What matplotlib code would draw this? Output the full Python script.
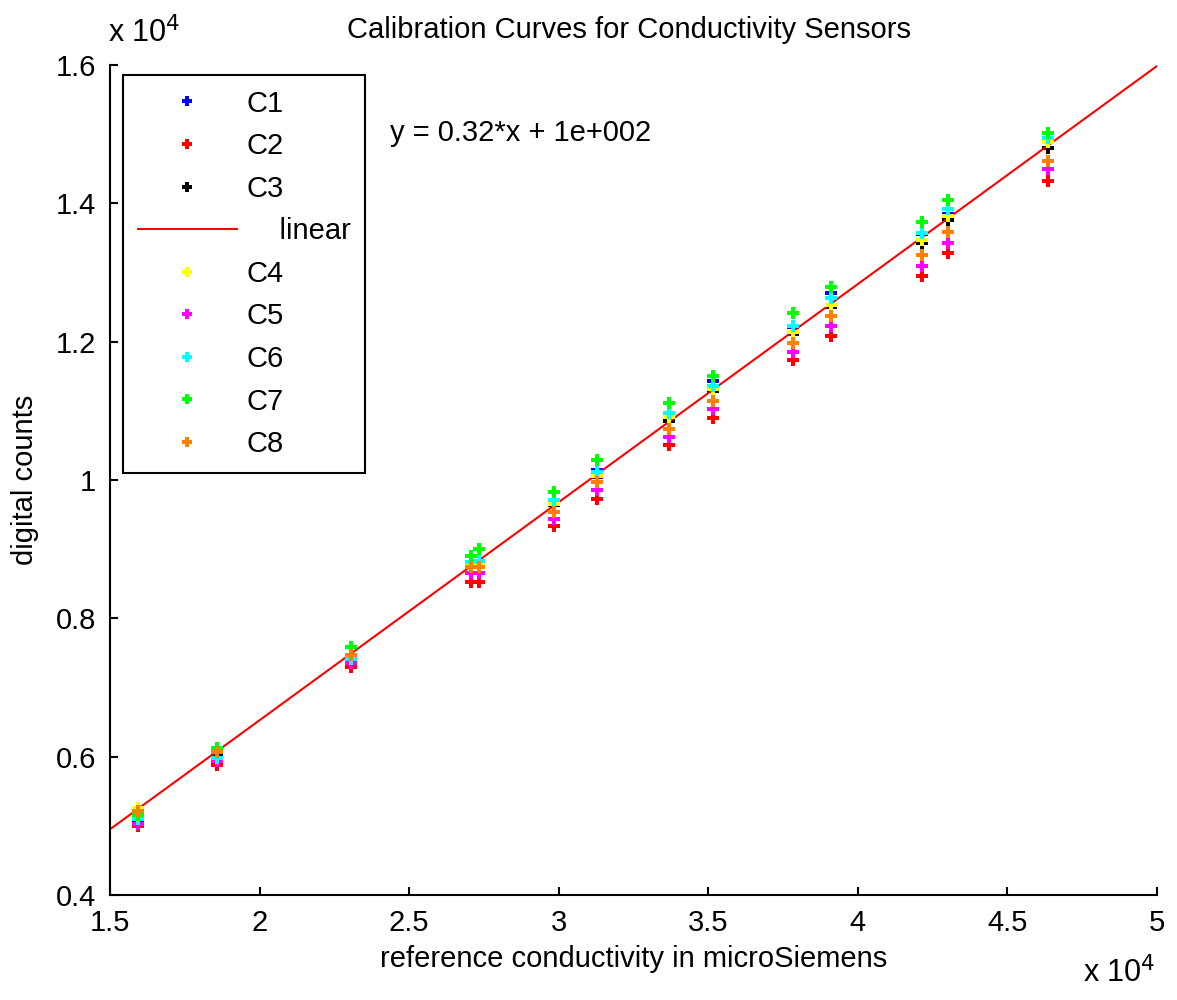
import matplotlib
matplotlib.use("Agg")
import matplotlib.pyplot as plt
import numpy as np
from matplotlib.ticker import FuncFormatter, MultipleLocator

plt.rcParams['font.family'] = ['Liberation Sans Narrow', 'Liberation Sans', 'DejaVu Sans']

# reference conductivity (microSiemens)
ref = [15950, 18570, 23070, 27080, 27350, 29840, 31280, 33690, 35150, 37820, 39090, 42160, 43030, 46360]

# digital counts per sensor
C1 = [5070, 6010, 7410, 8800, 8830, 9690, 10150, 10950, 11430, 12210, 12700, 13550, 13840, 14915]
C2 = [5000, 5880, 7290, 8530, 8530, 9339, 9719, 10500, 10896, 11735, 12081, 12952, 13275, 14322]
C3 = [5150, 6047, 7440, 8760, 8790, 9638, 10046, 10856, 11291, 12114, 12505, 13420, 13758, 14794]
C4 = [5260, 6080, 7460, 8790, 8800, 9650, 10060, 10905, 11315, 12143, 12530, 13469, 13816, 14881]
C5 = [5020, 5937, 7358, 8650, 8650, 9430, 9855, 10616, 11030, 11844, 12226, 13097, 13420, 14490]
C6 = [5093, 5984, 7407, 8820, 8833, 9711, 10119, 10963, 11363, 12230, 12626, 13565, 13912, 14939]
C7 = [5150, 6120, 7590, 8901, 8998, 9826, 10289, 11117, 11503, 12410, 12795, 13730, 14048, 15021]
C8 = [5214, 6072, 7470, 8746, 8746, 9540, 9973, 10731, 11146, 11983, 12370, 13247, 13589, 14611]

# linear fit
fit_slope = 0.3153
fit_intercept = 221
fit_x = [15000, 50000]

fs = 21
fig = plt.figure(figsize=(11.77, 10.0), dpi=100)
ax = fig.add_axes([110/1177, 1-895/1000, (1157-110)/1177, (895-65)/1000])

mk = dict(marker='P', markersize=8.5, linestyle='none', markeredgewidth=0)
ax.plot(ref, C1, color=(0, 0, 1), label='C1', **mk)
ax.plot(ref, C2, color=(1, 0, 0), label='C2', **mk)
ax.plot(ref, C3, color=(0, 0, 0), label='C3', **mk)
fx = np.array(fit_x, dtype=float)
ax.plot(fx, fit_slope*fx + fit_intercept, color=(1, 0, 0), linewidth=1.5, label='    linear')
ax.plot(ref, C4, color=(1, 1, 0), label='C4', **mk)
ax.plot(ref, C5, color=(1, 0, 1), label='C5', **mk)
ax.plot(ref, C6, color=(0, 1, 1), label='C6', **mk)
ax.plot(ref, C7, color=(0, 1, 0), label='C7', **mk)
ax.plot(ref, C8, color=(1, 0.5, 0), label='C8', **mk)

ax.set_xlim(15000, 50000)
ax.set_ylim(4000, 16000)
ax.xaxis.set_major_locator(MultipleLocator(5000))
ax.yaxis.set_major_locator(MultipleLocator(2000))
fmt = FuncFormatter(lambda v, p: ('%g' % (v/1e4)))
ax.xaxis.set_major_formatter(fmt)
ax.yaxis.set_major_formatter(fmt)

for s in ['top', 'right']:
    ax.spines[s].set_visible(False)
for s in ['left', 'bottom']:
    ax.spines[s].set_linewidth(1.5)
ax.tick_params(direction='in', length=6, width=1.5, labelsize=fs, pad=10)

ax.set_xlabel('reference conductivity in microSiemens', fontsize=fs, labelpad=6)
ax.set_ylabel('digital counts', fontsize=fs, labelpad=12)
fig.text(629/1177, 1-30/1000, 'Calibration Curves for Conductivity Sensors', fontsize=fs,
         ha='center', va='center')
fig.text(108/1177, 1-33/1000, 'x 10$^4$', fontsize=fs+1, ha='left', va='center')
fig.text(1083/1177, 1-973/1000, 'x 10$^4$', fontsize=fs+1, ha='left', va='center')
ax.text((390-110)/1047, (895-133)/830, 'y = 0.32*x + 1e+002', transform=ax.transAxes,
        fontsize=fs, ha='left', va='center')

leg = ax.legend(loc='upper left', bbox_to_anchor=((123-110)/1047, (895-75)/830),
                borderaxespad=0, fontsize=fs, handlelength=3.4, handletextpad=0.35,
                labelspacing=0.5, borderpad=0.5, fancybox=False, framealpha=1,
                edgecolor='black', numpoints=1)
leg.get_frame().set_linewidth(1.5)
for h in leg.legend_handles:
    try:
        h.set_markersize(7.5)
    except Exception:
        pass

fig.savefig('out.png', dpi=100)
